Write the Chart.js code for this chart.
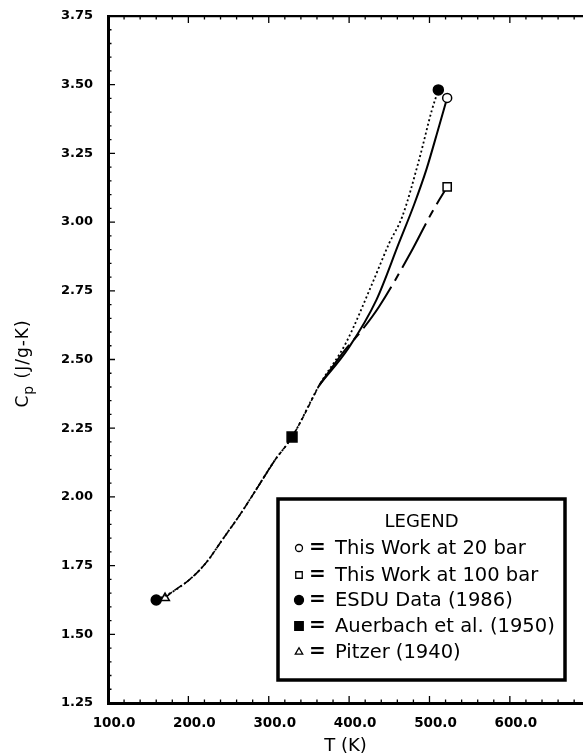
<!DOCTYPE html>
<html><head><meta charset="utf-8">
<script src="https://cdn.jsdelivr.net/npm/chart.js@4.4.1/dist/chart.umd.min.js"></script>
<style>html,body{margin:0;padding:0;background:#fff;overflow:hidden}#wrap{width:583px;height:754px;position:relative}</style>
</head><body><div id="wrap"><canvas id="c" width="583" height="754"></canvas></div>
<script>
// ---- data ----
const xTickValues = [100, 200, 300, 400, 500, 600];
const xTickLabels = ['100.0', '200.0', '300.0', '400.0', '500.0', '600.0'];
const yTickValues = [1.25, 1.5, 1.75, 2.0, 2.25, 2.5, 2.75, 3.0, 3.25, 3.5, 3.75];
const yTickLabels = ['1.25', '1.50', '1.75', '2.00', '2.25', '2.50', '2.75', '3.00', '3.25', '3.50', '3.75'];

const xTitle = 'T (K)';
const yTitleMain = 'C';
const yTitleSub = 'p';
const yTitleRest = ' (J/g-K)';
const legendTitle = 'LEGEND';

const seriesNames = ['This Work at 20 bar', 'This Work at 100 bar', 'ESDU Data (1986)', 'Auerbach et al. (1950)', 'Pitzer (1940)'];

const work20T  = [363, 400, 434, 462, 481, 496, 512, 522];
const work20Cp = [2.407, 2.545, 2.717, 2.924, 3.065, 3.190, 3.350, 3.452];

const work100T  = [363, 395, 413, 437, 477, 500, 512, 522];
const work100Cp = [2.407, 2.535, 2.596, 2.691, 2.891, 3.019, 3.080, 3.128];

const esduT  = [160, 180, 201, 222, 242, 263, 284, 307, 329, 363, 396, 429, 450, 466, 487, 503, 511];
const esduCp = [1.625, 1.654, 1.698, 1.760, 1.843, 1.930, 2.025, 2.131, 2.218, 2.407, 2.560, 2.778, 2.924, 3.019, 3.226, 3.408, 3.481];

const auerT  = [284, 307, 329, 363];
const auerCp = [2.025, 2.131, 2.218, 2.407];

const pitzerT  = [171, 180, 201, 222, 242, 263, 284, 307];
const pitzerCp = [1.632, 1.654, 1.698, 1.760, 1.843, 1.930, 2.025, 2.131];

// index of points that carry a marker in each series
const work20Marks = [7];
const work100Marks = [7];
const esduMarks = [0, 16];
const auerMarks = [2];
const pitzerMarks = [0];

// ---- build ----
const pts = (xs, ys) => xs.map((x, i) => ({x: x, y: ys[i]}));
const markR = (marks, r) => (ctx) => marks.includes(ctx.dataIndex) ? r : 0;

const styles = [
  {style: 'circle',   r: 4.5, fill: '#fff', dash: [],            w: 2},
  {style: 'rect',     r: 5.8, fill: '#fff', dash: [50, 7, 8, 7],  w: 2},
  {style: 'circle',   r: 5,   fill: '#000', dash: [2, 2.6],       w: 1.8},
  {style: 'rect',     r: 7,   fill: '#000', dash: [4, 3],         w: 1.6},
  {style: 'triangle', r: 5,   fill: '#fff', dash: [9, 3],         w: 1.6}
];
const dataArr = [pts(work20T, work20Cp), pts(work100T, work100Cp), pts(esduT, esduCp), pts(auerT, auerCp), pts(pitzerT, pitzerCp)];
const marksArr = [work20Marks, work100Marks, esduMarks, auerMarks, pitzerMarks];

const datasets = dataArr.map((d, i) => ({
  label: seriesNames[i],
  data: d,
  borderColor: '#000',
  backgroundColor: styles[i].fill,
  borderWidth: styles[i].w,
  borderDash: styles[i].dash,
  cubicInterpolationMode: 'monotone',
  pointStyle: styles[i].style,
  pointRadius: markR(marksArr[i], styles[i].r),
  pointBorderWidth: 1.5,
  pointBorderColor: '#000',
  pointBackgroundColor: styles[i].fill,
  pointHoverRadius: 0,
  fill: false
}));

const FONT = 'DejaVu Sans';
Chart.defaults.font.family = FONT;
Chart.defaults.color = '#000';

// inward tick marks (major + minor) drawn on the library's scales
const tickMarks = {
  id: 'tickMarks',
  afterDraw(chart) {
    const {ctx, chartArea: a, scales: {x, y}} = chart;
    ctx.save();
    ctx.strokeStyle = '#000';
    ctx.lineWidth = 1.3;
    ctx.beginPath();
    for (let v = 100; v <= x.max; v += 20) {
      const px = x.getPixelForValue(v);
      if (px <= a.left + 1) continue;
      const major = Math.abs((v % 100)) < 1e-6;
      const len = major ? 7 : 3.5;
      ctx.moveTo(px, a.bottom); ctx.lineTo(px, a.bottom - len);
      ctx.moveTo(px, a.top); ctx.lineTo(px, a.top + len);
    }
    for (let k = 0; k <= 50; k++) {
      const v = 1.25 + k * 0.05;
      const py = y.getPixelForValue(v);
      const len = (k % 5 === 0) ? 7 : 3.5;
      ctx.moveTo(a.left, py); ctx.lineTo(a.left + len, py);
    }
    ctx.stroke();
    ctx.restore();
  }
};

// y-axis title with subscript
const yTitlePlugin = {
  id: 'yTitlePlugin',
  afterDraw(chart) {
    const ctx = chart.ctx;
    const a = chart.chartArea;
    ctx.save();
    ctx.translate(24, (a.top + a.bottom) / 2 + 4);
    ctx.rotate(-Math.PI / 2);
    ctx.fillStyle = '#000';
    ctx.textBaseline = 'middle';
    ctx.letterSpacing = '1px';
    const fMain = '17px "' + FONT + '"', fSub = '14px "' + FONT + '"';
    ctx.font = fMain; const w1 = ctx.measureText(yTitleMain).width;
    const w3 = ctx.measureText(yTitleRest).width;
    ctx.font = fSub; const w2 = ctx.measureText(yTitleSub).width;
    let x0 = -(w1 + w2 + w3) / 2;
    ctx.textAlign = 'left';
    ctx.font = fMain; ctx.fillText(yTitleMain, x0, 0);
    ctx.font = fSub; ctx.fillText(yTitleSub, x0 + w1, 5);
    ctx.font = fMain; ctx.fillText(yTitleRest, x0 + w1 + w2, 0);
    ctx.restore();
  }
};

// boxed legend drawn inside the plot
const boxLegend = {
  id: 'boxLegend',
  afterDraw(chart) {
    const ctx = chart.ctx;
    const L = 278, T = 499, R = 565, B = 680;
    ctx.save();
    ctx.fillStyle = '#fff';
    ctx.fillRect(L, T, R - L, B - T);
    ctx.lineWidth = 3.5;
    ctx.strokeStyle = '#000';
    ctx.strokeRect(L, T, R - L, B - T);
    ctx.fillStyle = '#000';
    ctx.textBaseline = 'middle';
    ctx.textAlign = 'center';
    ctx.font = '18px "' + FONT + '"';
    ctx.fillText(legendTitle, (L + R) / 2, 522);
    const rows = [548, 575, 600, 626, 652];
    const legR = [3.5, 4.6, 4.5, 6, 4.3];
    chart.data.datasets.forEach((ds, i) => {
      const yy = rows[i];
      ctx.lineWidth = 1.3;
      ctx.strokeStyle = '#000';
      ctx.fillStyle = styles[i].fill;
      Chart.helpers.drawPoint(ctx, {pointStyle: styles[i].style, radius: legR[i], borderWidth: 1.3}, 299, yy);
      ctx.fillStyle = '#000';
      ctx.textAlign = 'left';
      ctx.font = 'bold 20px "' + FONT + '"';
      ctx.fillText('=', 309, yy);
      ctx.font = '19.5px "' + FONT + '"';
      ctx.fillText(ds.label, 335, yy + 1);
    });
    ctx.restore();
  }
};

new Chart(document.getElementById('c'), {
  type: 'line',
  data: {datasets: datasets},
  options: {
    responsive: false,
    animation: false,
    layout: {padding: 0, autoPadding: false},
    plugins: {legend: {display: false}, tooltip: {enabled: false}},
    scales: {
      x: {
        type: 'linear', position: 'bottom', min: 100, max: 691,
        afterFit: s => { s.height = 51; s.paddingLeft = 0; s.paddingRight = 0; },
        afterBuildTicks: s => { s.ticks = xTickValues.map(v => ({value: v})); },
        grid: {display: false},
        border: {display: true, width: 3, color: '#000'},
        ticks: {autoSkip: false, maxRotation: 0, padding: 4, labelOffset: 6, color: '#000',
                font: {size: 13.5, weight: 'bold'},
                callback: (v, i) => xTickLabels[i]},
        title: {display: true, text: xTitle, color: '#000', font: {size: 18, lineHeight: 0.9}, padding: {top: 0, bottom: 0}}
      },
      x2: {
        type: 'linear', position: 'top', min: 100, max: 691,
        afterFit: s => { s.height = 16; s.paddingLeft = 0; s.paddingRight = 0; },
        afterBuildTicks: s => { s.ticks = []; },
        grid: {display: false},
        border: {display: true, width: 2.2, color: '#000'},
        ticks: {display: false}
      },
      y: {
        type: 'linear', position: 'left', min: 1.25, max: 3.75,
        afterFit: s => { s.width = 108; s.paddingTop = 0; s.paddingBottom = 0; },
        afterBuildTicks: s => { s.ticks = yTickValues.map(v => ({value: v})); },
        grid: {display: false},
        border: {display: true, width: 3, color: '#000'},
        ticks: {autoSkip: false, padding: 7, color: '#000',
                font: {size: 13, weight: 'bold'},
                callback: (v, i) => yTickLabels[i]},
        title: {display: false}
      }
    }
  },
  plugins: [tickMarks, yTitlePlugin, boxLegend]
});
</script>
</body></html>
